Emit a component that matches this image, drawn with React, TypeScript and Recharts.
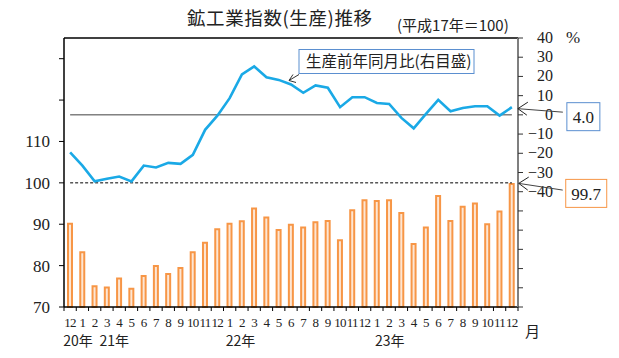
import React from "react";
import {
  Bar,
  ComposedChart,
  Line,
  ReferenceLine,
  XAxis,
  YAxis,
} from "recharts";

// months Dec 2020 .. Dec 2023
const periods = [
  "2020-12",
  "2021-01", "2021-02", "2021-03", "2021-04", "2021-05", "2021-06",
  "2021-07", "2021-08", "2021-09", "2021-10", "2021-11", "2021-12",
  "2022-01", "2022-02", "2022-03", "2022-04", "2022-05", "2022-06",
  "2022-07", "2022-08", "2022-09", "2022-10", "2022-11", "2022-12",
  "2023-01", "2023-02", "2023-03", "2023-04", "2023-05", "2023-06",
  "2023-07", "2023-08", "2023-09", "2023-10", "2023-11", "2023-12",
];

const monthLabels = [
  "12",
  "1", "2", "3", "4", "5", "6", "7", "8", "9", "10", "11", "12",
  "1", "2", "3", "4", "5", "6", "7", "8", "9", "10", "11", "12",
  "1", "2", "3", "4", "5", "6", "7", "8", "9", "10", "11", "12",
];

// 生産指数 (左目盛)
const productionIndex = [
  90.1, 83.2, 75.0, 74.7, 76.9, 74.4, 77.5, 79.9, 78.0, 79.4, 83.2, 85.5, 88.8,
  90.1, 90.7, 93.8, 91.6, 88.6, 89.9, 89.2, 90.5, 90.8, 86.1, 93.4, 95.8,
  95.6, 95.8, 92.7, 85.2, 89.2, 96.8, 90.8, 94.2, 95.0, 90.0, 93.1, 99.7,
];

// 生産前年同月比 % (右目盛)
const yoyChange = [
  -19.5, -26.4, -34.6, -33.3, -32.1, -34.6, -26.4, -27.4, -25.0, -25.5, -20.8, -7.8, -0.4,
  8.7, 21.0, 25.2, 19.6, 18.2, 15.8, 11.5, 15.3, 14.1, 4.0, 9.2, 9.2,
  6.2, 5.7, -1.6, -7.0, 0.5, 7.8, 1.9, 3.6, 4.5, 4.5, -0.4, 4.0,
];

const yearLabels = ["20年", "21年", "22年", "23年"];
const yearAt = [0, 1, 13, 25];
const yearDx = [-7, 17, -4, -2];

const leftTicks = [70, 80, 90, 100, 110, 120, 130];
const rightTicks = [-100, -90, -80, -70, -60, -50, -40, -30, -20, -10, 0, 10, 20, 30, 40];

const data = periods.map((p, i) => ({
  period: p,
  index: productionIndex[i],
  yoy: yoyChange[i],
}));

const SERIF = '"Liberation Serif", "DejaVu Serif", serif';
const CJK = '"Noto Sans CJK JP", "Noto Sans", sans-serif';
const BLUE = "#1aa9e6";
const ORANGE = "#f79646";
const HALF_BAND = 454 / 37 / 2;

const XTick = (props: any) => {
  const { x, y, payload } = props;
  const i = payload.index;
  const yi = yearAt.indexOf(i);
  return (
    <g>
      <line x1={x - HALF_BAND} x2={x - HALF_BAND} y1={y} y2={y + 4} stroke="#000" />
      {i === periods.length - 1 && (
        <line x1={x + HALF_BAND} x2={x + HALF_BAND} y1={y} y2={y + 4} stroke="#000" />
      )}
      <text
        x={x}
        y={y + 20}
        textAnchor="middle"
        fontFamily={SERIF}
        fontSize={13}
        letterSpacing={-0.6}
        fill="#222"
      >
        {monthLabels[i]}
      </text>
      {yi >= 0 && (
        <text
          x={x + yearDx[yi]}
          y={y + 39}
          fontFamily={CJK}
          fontSize={14}
          fill="#222"
        >
          {yearLabels[yi]}
        </text>
      )}
    </g>
  );
};

const RightTick = (props: any) => {
  const { x, y, payload } = props;
  const v = payload.value;
  if (v < -40) return <g />;
  return (
    <text x={x + 28} y={y + 5} textAnchor="end" fontFamily={SERIF} fontSize={16} fill="#222">
      {v < 0 ? `−${Math.abs(v)}` : v}
    </text>
  );
};

const LineNotes = (props: any) => {
  const { x, y, index, value } = props;
  if (index === 18) {
    return (
      <g>
        <rect x={x + 8} y={y - 35} width={175} height={24} fill="#fff" stroke="#5b8fd0" />
        <text x={x + 15} y={y - 17} fontFamily={CJK} fontSize={15.5} fill="#222">
          生産前年同月比(右目盛)
        </text>
        <line x1={x + 8} y1={y - 10} x2={x - 2} y2={y - 4} stroke="#333" />
        <polyline
          points={`${x + 5},${y - 2} ${x - 2},${y - 4} ${x + 2},${y - 10}`}
          fill="none"
          stroke="#333"
        />
      </g>
    );
  }
  if (index === periods.length - 1) {
    return (
      <g>
        <line x1={x + 51} y1={y + 5} x2={x + 6} y2={y + 1.5} stroke="#444" />
        <polyline
          points={`${x + 16},${y - 5} ${x + 6},${y + 1.5} ${x + 15},${y + 8}`}
          fill="none"
          stroke="#222"
        />
        <rect x={x + 55} y={y - 4.5} width={33} height={28} fill="#fff" stroke="#5b8fd0" />
        <text x={x + 71.5} y={y + 16} textAnchor="middle" fontFamily={SERIF} fontSize={17} fill="#222">
          {value.toFixed(1)}
        </text>
      </g>
    );
  }
  return null;
};

const BarNote = (props: any) => {
  const { x, y, width, index, value } = props;
  if (index !== periods.length - 1) return null;
  const cx = x + width / 2;
  return (
    <g>
      <line x1={cx + 51} y1={y + 6} x2={cx + 7} y2={y - 0.7} stroke="#444" />
      <polyline
        points={`${cx + 17},${y - 7} ${cx + 7},${y - 0.7} ${cx + 16},${y + 6}`}
        fill="none"
        stroke="#222"
      />
      <rect x={cx + 54} y={y - 4.7} width={41} height={28} fill="#fff" stroke={ORANGE} />
      <text x={cx + 74.5} y={y + 16} textAnchor="middle" fontFamily={SERIF} fontSize={17} fill="#222">
        {value.toFixed(1)}
      </text>
    </g>
  );
};

export default function App() {
  return (
    <div style={{ position: "absolute", left: 0, top: 0, width: 619, height: 358, background: "#fff" }}>
      <div
        style={{
          position: "absolute",
          left: 187,
          top: 5,
          fontFamily: CJK,
          fontSize: 18.5,
          letterSpacing: 0.6,
          color: "#222",
          whiteSpace: "nowrap",
          lineHeight: "24px",
        }}
      >
        鉱工業指数(生産)推移
      </div>
      <div
        style={{
          position: "absolute",
          left: 397,
          top: 15,
          fontFamily: CJK,
          fontSize: 15,
          color: "#222",
          whiteSpace: "nowrap",
          lineHeight: "20px",
        }}
      >
        (平成17年＝100)
      </div>
      <div style={{ position: "absolute", left: 566, top: 28, fontFamily: SERIF, fontSize: 17, color: "#222" }}>%</div>
      <div style={{ position: "absolute", left: 525, top: 320, fontFamily: CJK, fontSize: 15, color: "#222" }}>月</div>
      <ComposedChart
        width={619}
        height={358}
        data={data}
        margin={{ top: 38, right: 41, bottom: 21, left: 0 }}
      >
        <XAxis
          dataKey="period"
          interval={0}
          tickLine={false}
          tickSize={0}
          tickMargin={0}
          height={30}
          tick={<XTick />}
          axisLine={{ stroke: "#000", strokeWidth: 1.5 }}
        />
        <YAxis
          yAxisId="left"
          orientation="left"
          domain={[70, 135]}
          ticks={leftTicks}
          width={64}
          tickSize={5}
          tickMargin={9}
          interval={0}
          tickFormatter={(v: number) => (v <= 110 ? String(v) : "")}
          tick={{ fontFamily: SERIF, fontSize: 17, fill: "#222" }}
          axisLine={{ stroke: "#000", strokeWidth: 1.5 }}
          tickLine={{ stroke: "#000" }}
        />
        <YAxis
          yAxisId="right"
          orientation="right"
          domain={[-100, 40]}
          ticks={rightTicks}
          width={60}
          tickSize={5}
          tickMargin={2}
          interval={0}
          tick={<RightTick />}
          axisLine={{ stroke: "#7f7f7f", strokeWidth: 2 }}
          tickLine={{ stroke: "#333" }}
        />
        <ReferenceLine yAxisId="left" y={135} stroke="#000" strokeWidth={1.5} />
        <ReferenceLine
          yAxisId="left"
          segment={[
            { x: periods[0], y: 100 },
            { x: periods[periods.length - 1], y: 100 },
          ]}
          stroke="#000"
          strokeDasharray="3 2"
        />
        <ReferenceLine
          yAxisId="right"
          segment={[
            { x: periods[0], y: 0 },
            { x: periods[periods.length - 1], y: 0 },
          ]}
          stroke="#404040"
        />
        <Bar
          yAxisId="left"
          dataKey="index"
          barSize={4}
          fill="#fde6d4"
          stroke={ORANGE}
          strokeWidth={2}
          isAnimationActive={false}
          label={<BarNote />}
        />
        <Line
          yAxisId="right"
          dataKey="yoy"
          type="linear"
          stroke={BLUE}
          strokeWidth={2.6}
          dot={false}
          isAnimationActive={false}
          label={<LineNotes />}
        />
      </ComposedChart>
    </div>
  );
}
